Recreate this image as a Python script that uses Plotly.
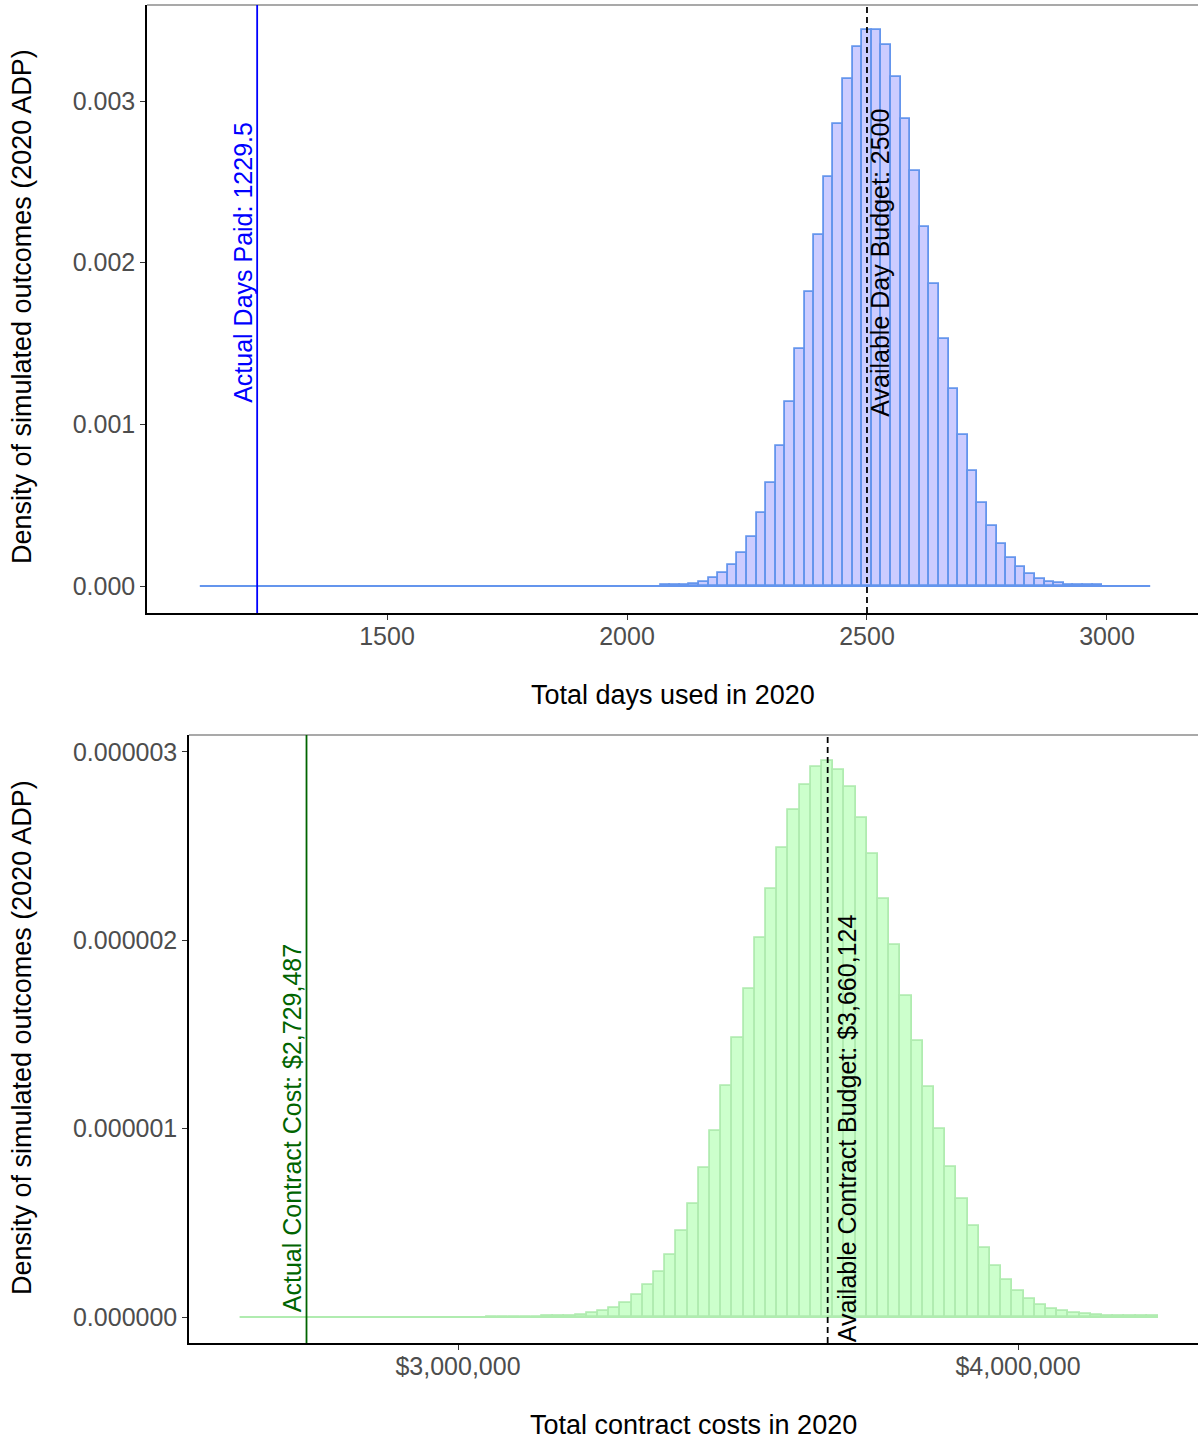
import plotly.graph_objects as go

# ---------------- data ----------------
# Simulated total days used in 2020 (density histogram, 20-day bins)
days_hist_lo = 1110          # left edge of the first histogram bin
days_hist_hi = 3090          # right edge of the last histogram bin
days_bin_width = 20
days_first_filled_bin = 2070  # left edge of the first non-empty bin
days_density = [
    0.0000045, 0.0000069, 0.0000093, 0.0000138, 0.0000251, 0.0000482,
    0.0000802, 0.000131, 0.000202, 0.000306, 0.000451, 0.000636,
    0.000863, 0.001139, 0.001469, 0.001816, 0.002174, 0.002532,
    0.002859, 0.003134, 0.003333, 0.003440, 0.003440, 0.003344,
    0.003151, 0.002886, 0.002566, 0.002222, 0.001868, 0.001531,
    0.001221, 0.000936, 0.000709, 0.000516, 0.000372, 0.000257,
    0.000176, 0.000117, 0.0000733, 0.0000433, 0.0000251, 0.0000162,
    0.0000093, 0.0000069, 0.0000045, 0.0000034,
]
actual_days_paid = 1229.5
available_day_budget = 2500

# Simulated total contract costs in 2020 (density histogram, $20,000 bins)
cost_hist_lo = 2_610_000
cost_hist_hi = 4_250_000
cost_bin_width = 20_000
cost_first_filled_bin = 3_050_000
cost_density = [
    0.9e-9, 1.2e-9, 1.5e-9, 2.1e-9, 2.7e-9, 3.5e-9, 5.0e-9, 8.0e-9,
    1.21e-8, 2.01e-8, 3.19e-8, 4.78e-8, 7.59e-8, 1.161e-7, 1.719e-7,
    2.398e-7, 3.307e-7, 4.548e-7, 6.024e-7, 7.885e-7, 9.863e-7,
    1.2284e-6, 1.4824e-6, 1.7423e-6, 2.0139e-6, 2.2709e-6, 2.4923e-6,
    2.6931e-6, 2.8260e-6, 2.9176e-6, 2.953e-6, 2.9058e-6, 2.8142e-6,
    2.6518e-6, 2.4598e-6, 2.2207e-6, 1.9726e-6, 1.7039e-6, 1.4647e-6,
    1.2225e-6, 9.981e-7, 7.944e-7, 6.260e-7, 4.813e-7, 3.662e-7,
    2.717e-7, 1.940e-7, 1.400e-7, 9.60e-8, 6.59e-8, 4.40e-8, 3.01e-8,
    2.01e-8, 1.39e-8, 1.00e-8, 8.0e-9, 5.9e-9, 5.0e-9, 3.8e-9, 3.0e-9,
]
actual_contract_cost = 2_729_487
available_contract_budget = 3_660_124

days_ticks = [1500, 2000, 2500, 3000]
days_density_ticks = [0.000, 0.001, 0.002, 0.003]
cost_ticks = [3_000_000, 4_000_000]
cost_density_ticks = [0.0, 1e-6, 2e-6, 3e-6]

# ---------------- styling ----------------
W, H = 1198, 1441
FONT = "Liberation Sans, Arial, sans-serif"
TICK_FONT = dict(family=FONT, size=25, color="#4D4D4D")
TITLE_FONT = dict(family=FONT, size=27, color="black")


def bin_centers(first_edge, width, n):
    return [first_edge + width * (i + 0.5) for i in range(n)]


fig = go.Figure()

# Top panel: days histogram
fig.add_trace(go.Scatter(
    x=[days_hist_lo, days_hist_hi], y=[0, 0], mode="lines",
    line=dict(color="#6495ED", width=1.8), hoverinfo="skip",
    showlegend=False, xaxis="x", yaxis="y",
))
fig.add_trace(go.Bar(
    x=bin_centers(days_first_filled_bin, days_bin_width, len(days_density)),
    y=days_density, width=days_bin_width,
    marker=dict(color="#CCCCFF", line=dict(color="#6495ED", width=1.8)),
    showlegend=False, xaxis="x", yaxis="y",
))

# Bottom panel: contract cost histogram
fig.add_trace(go.Scatter(
    x=[cost_hist_lo, cost_hist_hi], y=[0, 0], mode="lines",
    line=dict(color="#B0ECB0", width=1.8), hoverinfo="skip",
    showlegend=False, xaxis="x2", yaxis="y2",
))
fig.add_trace(go.Bar(
    x=bin_centers(cost_first_filled_bin, cost_bin_width, len(cost_density)),
    y=cost_density, width=cost_bin_width,
    marker=dict(color="#CCFFCC", line=dict(color="#B0ECB0", width=1.8)),
    showlegend=False, xaxis="x2", yaxis="y2",
))

axis_common = dict(
    showline=True, linecolor="black", linewidth=1.5,
    ticks="outside", ticklen=5, tickwidth=1.3, tickcolor="#333333",
    tickfont=TICK_FONT, showgrid=False, zeroline=False,
)

# panel boxes in pixels: (left, top, right, bottom)
top_box = (147, 5, W, 613)
bot_box = (189, 735, W, 1343)


def xdom(box):
    return [box[0] / W, box[2] / W]


def ydom(box):
    return [1 - box[3] / H, 1 - box[1] / H]


fig.update_layout(
    width=W, height=H,
    margin=dict(l=0, r=0, t=0, b=0),
    paper_bgcolor="white", plot_bgcolor="white",
    bargap=0, barmode="overlay",
    xaxis=dict(axis_common, domain=xdom(top_box), anchor="y",
               range=[1000, 3189.6], tickvals=days_ticks,
               ticklabelstandoff=-5),
    yaxis=dict(axis_common, domain=ydom(top_box), anchor="x",
               range=[-0.000167, 0.003594], tickvals=days_density_ticks,
               tickformat=".3f"),
    xaxis2=dict(axis_common, domain=xdom(bot_box), anchor="y2",
                range=[2_519_643, 4_321_429], tickvals=cost_ticks,
                tickformat="$,.0f", ticklabelstandoff=-5),
    yaxis2=dict(axis_common, domain=ydom(bot_box), anchor="x2",
                range=[-1.38e-7, 3.090e-6], tickvals=cost_density_ticks,
                tickformat=".6f"),
)

shapes = []
# thin grey rule along the top of each panel
for xr, yr in (("x", "y"), ("x2", "y2")):
    shapes.append(dict(type="line", xref=f"{xr} domain", yref=f"{yr} domain",
                       x0=0, x1=1, y0=1, y1=1,
                       line=dict(color="#8C8C8C", width=1.5)))

# reference lines
DASH = dict(color="black", width=1.8, dash="6px,4px")
shapes += [
    dict(type="line", xref="x", yref="y domain", x0=actual_days_paid,
         x1=actual_days_paid, y0=0, y1=1, line=dict(color="#0000FF", width=1.8)),
    dict(type="line", xref="x", yref="y domain", x0=available_day_budget,
         x1=available_day_budget, y0=0, y1=1, line=DASH),
    dict(type="line", xref="x2", yref="y2 domain", x0=actual_contract_cost,
         x1=actual_contract_cost, y0=0, y1=1, line=dict(color="#006400", width=1.8)),
    dict(type="line", xref="x2", yref="y2 domain", x0=available_contract_budget,
         x1=available_contract_budget, y0=0, y1=1, line=DASH),
]

ANN_FONT = 25
CENTER = dict(xanchor="center", yanchor="middle", showarrow=False)
annotations = [
    dict(CENTER, x=actual_days_paid, y=0.002, xref="x", yref="y",
         text=f"Actual Days Paid: {actual_days_paid}", textangle=-90,
         xshift=-14,
         font=dict(family=FONT, size=ANN_FONT, color="#0000FF")),
    dict(CENTER, x=available_day_budget, y=0.002, xref="x", yref="y",
         text=f"Available Day Budget: {available_day_budget}", textangle=-90,
         xshift=13,
         font=dict(family=FONT, size=ANN_FONT, color="black")),
    dict(CENTER, x=actual_contract_cost, y=1e-6, xref="x2", yref="y2",
         text=f"Actual Contract Cost: ${actual_contract_cost:,}", textangle=-90,
         xshift=-15,
         font=dict(family=FONT, size=ANN_FONT, color="#006400")),
    dict(CENTER, x=available_contract_budget, y=1e-6, xref="x2", yref="y2",
         text=f"Available Contract Budget: ${available_contract_budget:,}",
         textangle=-90, xshift=19,
         font=dict(family=FONT, size=ANN_FONT, color="black")),
    # axis titles
    dict(CENTER, x=(top_box[0] + top_box[2]) / 2 / W, y=1 - 695 / H,
         xref="paper", yref="paper", text="Total days used in 2020",
         font=TITLE_FONT),
    dict(CENTER, x=(bot_box[0] + bot_box[2]) / 2 / W, y=1 - 1425 / H,
         xref="paper", yref="paper", text="Total contract costs in 2020",
         font=TITLE_FONT),
    dict(CENTER, x=22 / W, y=1 - 307 / H, xref="paper", yref="paper",
         text="Density of simulated outcomes (2020 ADP)", textangle=-90,
         font=TITLE_FONT),
    dict(CENTER, x=22 / W, y=1 - 1038 / H, xref="paper", yref="paper",
         text="Density of simulated outcomes (2020 ADP)", textangle=-90,
         font=TITLE_FONT),
]

fig.update_layout(shapes=shapes, annotations=annotations)

fig.write_html("out.html")
